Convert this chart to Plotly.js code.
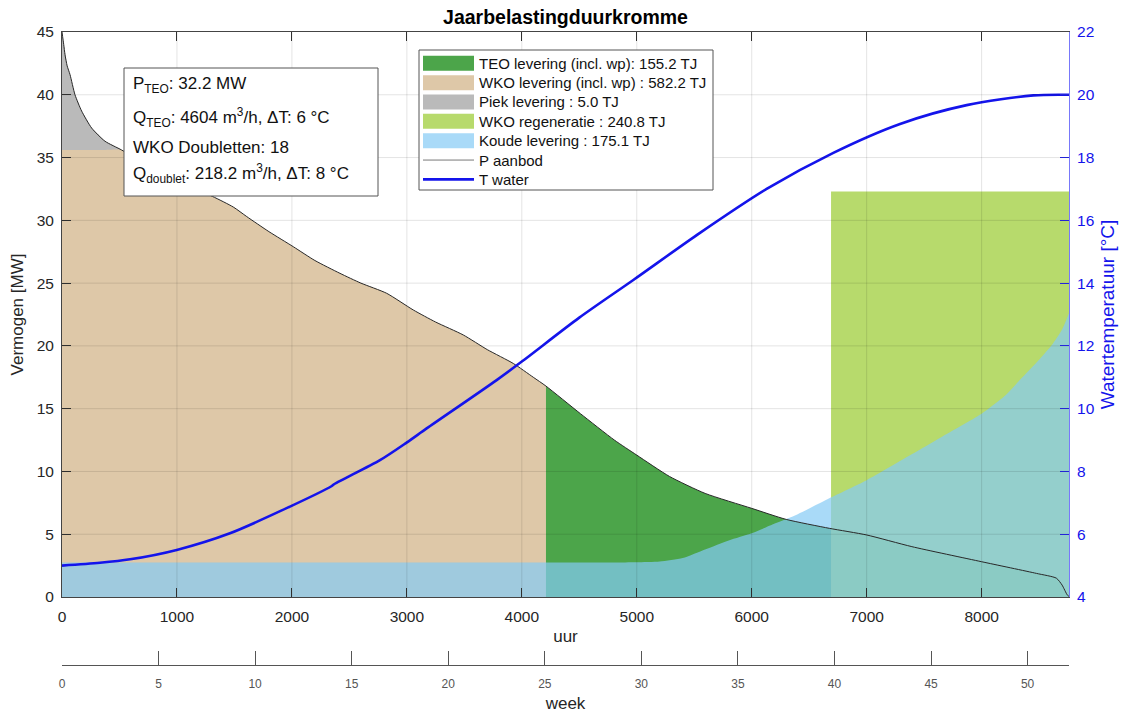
<!DOCTYPE html>
<html>
<head>
<meta charset="utf-8">
<script src="https://cdn.plot.ly/plotly-3.0.1.min.js"></script>
<style>html,body{margin:0;padding:0;background:#fff}#chart{width:1128px;height:713px}</style>
</head>
<body>
<div id="chart"></div>
<script>
// ---- data ----
const hoursP = [0, 15, 26, 45, 70, 113, 171, 258, 374, 519, 700, 900, 1100, 1310, 1490, 1607, 1800, 2012, 2200, 2418, 2600, 2824, 3056, 3250, 3491, 3700, 3926, 4100, 4210, 4510, 4805, 5000, 5285, 5595, 6000, 6300, 6675, 7000, 7393, 8000, 8477, 8650, 8700, 8745, 8760];
const powerP = [45, 44.0, 43.2, 42.3, 41.6, 40.0, 38.7, 37.35, 36.3, 35.6, 34.6, 33.6, 32.7, 31.9, 31.06, 30.3, 29.1, 27.9, 26.8, 25.78, 25.0, 24.19, 22.86, 21.9, 20.87, 19.7, 18.6, 17.5, 16.8, 14.6, 12.5, 11.3, 9.6, 8.25, 7.06, 6.18, 5.47, 4.94, 4.01, 2.81, 1.88, 1.5, 0.95, 0.16, 0.05];

const hoursK = [0, 4900, 5000, 5200, 5400, 5600, 5800, 6000, 6200, 6400, 6675, 7000, 7400, 7700, 8000, 8200, 8334, 8500, 8621, 8700, 8760];
const powerK = [2.75, 2.75, 2.76, 2.82, 3.1, 3.8, 4.5, 5.07, 5.85, 6.6, 7.86, 9.3, 11.4, 13.0, 14.6, 16.0, 17.3, 18.9, 20.2, 21.3, 22.6];

const hoursT = [0, 330, 592, 998, 1461, 1983, 2340, 2370, 2766, 2998, 3172, 3781, 4000, 4500, 4970, 5550, 6130, 6710, 7290, 7870, 8450, 8760];
const tempT  = [5.0, 5.09, 5.2, 5.5, 6.03, 6.88, 7.52, 7.6, 8.36, 8.92, 9.37, 10.91, 11.5, 12.9, 14.1, 15.6, 17.0, 18.15, 19.07, 19.67, 19.98, 20.0];

const piekBase = 35.6;     // MW, WKO capacity limit
const teoStart = 4210;     // h, switch WKO -> TEO
const regenStart = 6690;   // h
const regenEnd = 8760;     // h
const regenPower = 32.3;   // MW
const hoursPerWeek = 168;

const legendNames = [
  'TEO levering (incl. wp): 155.2 TJ',
  'WKO levering (incl. wp) : 582.2 TJ',
  'Piek levering : 5.0 TJ',
  'WKO regeneratie : 240.8 TJ',
  'Koude levering : 175.1 TJ',
  'P aanbod',
  'T water'
];
const infoLines = [
  'P<sub>TEO</sub>: 32.2 MW',
  'Q<sub>TEO</sub>: 4604 m<sup>3</sup>/h, \u0394T: 6 \u00B0C',
  'WKO Doubletten: 18',
  'Q<sub>doublet</sub>: 218.2 m<sup>3</sup>/h, \u0394T: 8 \u00B0C'
];

// ---- colours ----
const cTEO = 'rgb(76,165,74)';
const cWKO = 'rgb(222,200,168)';
const cPiek = 'rgb(186,186,186)';
const cRegen = 'rgba(170,211,82,0.85)';
const cKoude = 'rgba(132,202,245,0.7)';
const cP = 'rgb(40,40,40)';
const cT = 'rgb(20,20,235)';
const FONT = 'Liberation Sans, Arial, Helvetica, sans-serif';
const SM = 0.6;

// ---- derived series ----
const piekX = [], piekY = [];
hoursP.forEach((h, i) => { if (powerP[i] >= piekBase) { piekX.push(h); piekY.push(powerP[i]); } });
const piekPolyX = piekX.concat([piekX[piekX.length - 1], 0]);
const piekPolyY = piekY.concat([piekBase, piekBase]);

const wkoX = [], wkoY = [];
hoursP.forEach((h, i) => { if (h <= teoStart) { wkoX.push(h); wkoY.push(Math.min(powerP[i], piekBase)); } });

const teoX = [], teoY = [];
hoursP.forEach((h, i) => { if (h >= teoStart) { teoX.push(h); teoY.push(powerP[i]); } });

const traces = [
  {x: piekPolyX, y: piekPolyY, type: 'scatter', mode: 'lines', fill: 'toself', fillcolor: cPiek, line: {width: 0}, name: legendNames[2], showlegend: false, hoverinfo: 'skip'},
  {x: wkoX, y: wkoY, type: 'scatter', mode: 'lines', fill: 'tozeroy', fillcolor: cWKO, line: {width: 0, shape: 'spline', smoothing: SM}, name: legendNames[1], showlegend: false},
  {x: teoX, y: teoY, type: 'scatter', mode: 'lines', fill: 'tozeroy', fillcolor: cTEO, line: {width: 0, shape: 'spline', smoothing: SM}, name: legendNames[0], showlegend: false},
  {x: [regenStart, regenEnd], y: [regenPower, regenPower], type: 'scatter', mode: 'lines', fill: 'tozeroy', fillcolor: cRegen, line: {width: 0}, name: legendNames[3], showlegend: false},
  {x: hoursK, y: powerK, type: 'scatter', mode: 'lines', fill: 'tozeroy', fillcolor: cKoude, line: {width: 0, shape: 'spline', smoothing: SM}, name: legendNames[4], showlegend: false},
  {x: hoursP, y: powerP, type: 'scatter', mode: 'lines', line: {color: cP, width: 1, shape: 'spline', smoothing: SM}, name: legendNames[5], showlegend: false},
  {x: hoursT, y: tempT, type: 'scatter', mode: 'lines', line: {color: cT, width: 2.6, shape: 'spline', smoothing: 0.8}, name: legendNames[6], yaxis: 'y2', showlegend: false},
  {x: [0, regenEnd / hoursPerWeek], y: [null, null], type: 'scatter', mode: 'lines', xaxis: 'x2', showlegend: false, hoverinfo: 'skip'}
];

// ---- pixel helpers for the plot-area ----
const PL = 62, PR = 1069, PT = 32, PB = 597;
const xd = px => (px - PL) / (PR - PL);
const yd = py => (PB - py) / (PB - PT);

const shapes = [];
// gridlines drawn above the fills (as in the reference)
for (let g = 1000; g <= 8000; g += 1000) {
  shapes.push({type: 'line', layer: 'above', xref: 'x', yref: 'y domain', x0: g, x1: g, y0: 0, y1: 1, line: {color: 'rgba(0,0,0,0.11)', width: 1}});
}
for (let g = 5; g <= 40; g += 5) {
  shapes.push({type: 'line', layer: 'above', xref: 'x domain', yref: 'y', x0: 0, x1: 1, y0: g, y1: g, line: {color: 'rgba(0,0,0,0.11)', width: 1}});
}
// info box
shapes.push({type: 'rect', layer: 'above', xref: 'x domain', yref: 'y domain', x0: xd(124), x1: xd(378), y0: yd(68), y1: yd(196), fillcolor: '#fff', line: {color: '#555', width: 1}});
// legend box
shapes.push({type: 'rect', layer: 'above', xref: 'x domain', yref: 'y domain', x0: xd(419), x1: xd(713), y0: yd(50), y1: yd(190), fillcolor: '#fff', line: {color: '#555', width: 1}});

const annotations = [];
const legendColors = [cTEO, cWKO, cPiek, cRegen, cKoude];
legendNames.forEach((name, i) => {
  const cy = 63.3 + i * 19.35;
  if (i < 5) {
    shapes.push({type: 'rect', layer: 'above', xref: 'x domain', yref: 'y domain', x0: xd(423), x1: xd(474), y0: yd(cy - 7.5), y1: yd(cy + 7.5), fillcolor: legendColors[i], line: {width: 0}});
  } else {
    shapes.push({type: 'line', layer: 'above', xref: 'x domain', yref: 'y domain', x0: xd(423), x1: xd(474), y0: yd(cy), y1: yd(cy), line: {color: i === 5 ? 'rgb(120,120,120)' : cT, width: i === 5 ? 1 : 2.6}});
  }
  annotations.push({xref: 'x domain', yref: 'y domain', x: xd(477), y: yd(cy), xanchor: 'left', yanchor: 'middle', text: name, showarrow: false, font: {family: FONT, size: 15, color: '#111'}});
});
const infoY = [85, 117, 147, 173];
infoLines.forEach((t, i) => {
  annotations.push({xref: 'x domain', yref: 'y domain', x: xd(131), y: yd(infoY[i]), xanchor: 'left', yanchor: 'middle', text: t, showarrow: false, font: {family: FONT, size: 17, color: '#111'}});
});

const layout = {
  width: 1128, height: 713,
  margin: {l: PL, r: 1128 - PR, t: PT, b: 48},
  paper_bgcolor: '#fff', plot_bgcolor: '#fff',
  font: {family: FONT, color: '#262626'},
  showlegend: false,
  title: {text: 'Jaarbelastingduurkromme', font: {family: FONT, size: 19.5, weight: 'bold', color: '#000'}, x: 0.5, xref: 'paper', y: 1 - 17 / 713, yanchor: 'middle'},
  xaxis: {
    range: [0, 8760], domain: [0, 1], anchor: 'y',
    tick0: 0, dtick: 1000, ticks: 'inside', ticklen: 9, tickcolor: '#333',
    showline: true, linecolor: '#444', linewidth: 1, mirror: 'ticks',
    showgrid: false, zeroline: false,
    tickfont: {size: 15.5, color: '#262626'}, ticklabelstandoff: 5,
    title: {text: 'uur', font: {size: 17, color: '#262626'}, standoff: 6}
  },
  yaxis: {
    range: [0, 45], domain: [(665 - PB) / (665 - PT), 1], anchor: 'x',
    tick0: 0, dtick: 5, ticks: 'inside', ticklen: 9, tickcolor: '#333',
    showline: true, linecolor: '#444', linewidth: 1,
    showgrid: false, zeroline: false,
    tickfont: {size: 15.5, color: '#262626'}, ticklabelstandoff: 4,
    title: {text: 'Vermogen [MW]', font: {size: 17, color: '#262626'}, standoff: 8}
  },
  yaxis2: {
    range: [4, 22], overlaying: 'y', side: 'right', anchor: 'x',
    tick0: 4, dtick: 2, ticks: 'inside', ticklen: 9, tickcolor: 'rgb(40,40,235)',
    showline: true, linecolor: 'rgb(120,120,250)', linewidth: 1,
    showgrid: false, zeroline: false,
    tickfont: {size: 15.5, color: 'rgb(20,20,235)'}, ticklabelstandoff: 4,
    title: {text: 'Watertemperatuur [\u00B0C]', font: {size: 19, color: 'rgb(20,20,235)'}, standoff: 6}
  },
  xaxis2: {
    range: [0, 8760 / 168], overlaying: 'x', anchor: 'free', position: 0, side: 'bottom',
    tick0: 0, dtick: 5, ticks: 'inside', ticklen: 14, tickcolor: '#555',
    showline: true, linecolor: '#555', linewidth: 1,
    showgrid: false, zeroline: false,
    tickfont: {size: 12, color: '#555'}, ticklabelstandoff: 8,
    title: {text: 'week', font: {size: 17, color: '#262626'}, standoff: 6}
  },
  shapes: shapes,
  annotations: annotations
};

Plotly.newPlot('chart', traces, layout, {displayModeBar: false, staticPlot: true});
</script>
</body>
</html>
